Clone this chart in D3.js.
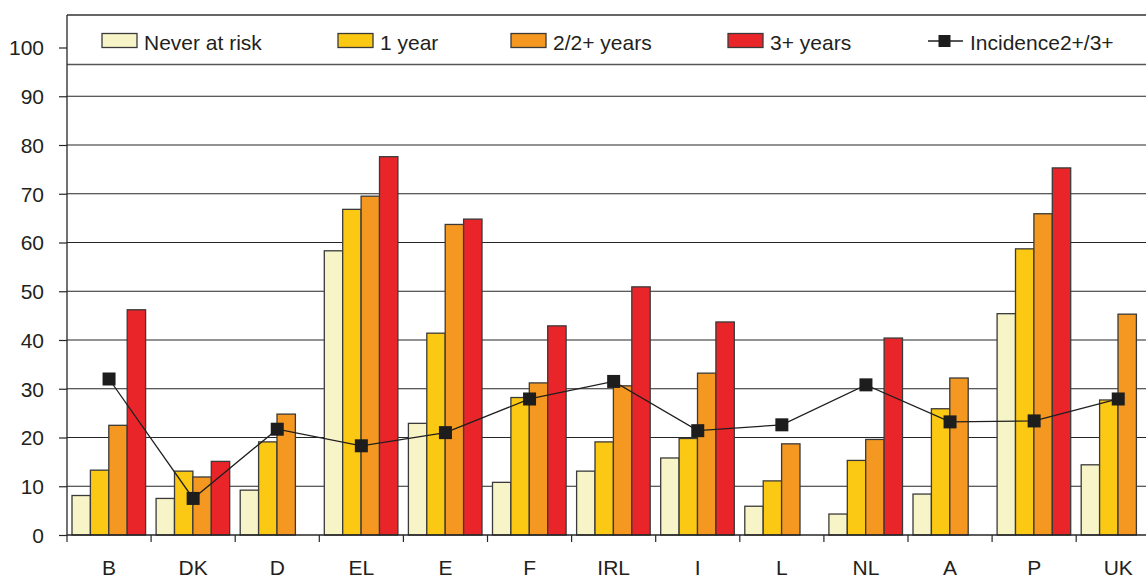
<!DOCTYPE html>
<html>
<head>
<meta charset="utf-8">
<script src="https://cdn.jsdelivr.net/npm/d3@7"></script>
<style>
  html, body { margin: 0; padding: 0; background: #fff; }
  svg { display: block; font-family: "Liberation Sans", Arial, Helvetica, sans-serif; }
</style>
</head>
<body>
<svg id="chart" width="1146" height="576"></svg>
<script>
// Countries along the x axis
const countries = ["B", "DK", "D", "EL", "E", "F", "IRL", "I", "L", "NL", "A", "P", "UK"];

// Bar series (percent); null = no bar
const neverAtRisk = [8.1, 7.5, 9.2, 58.3, 22.9, 10.8, 13.1, 15.8, 5.9, 4.3, 8.4, 45.4, 14.4];
const oneYear     = [13.3, 13.1, 19.1, 66.8, 41.4, 28.2, 19.1, 19.8, 11.1, 15.3, 25.9, 58.7, 27.7];
const twoPlus     = [22.5, 11.9, 24.8, 69.5, 63.7, 31.2, 30.6, 33.2, 18.7, 19.6, 32.2, 65.9, 45.3];
const threePlus   = [46.2, 15.1, null, 77.6, 64.8, 42.9, 50.9, 43.7, null, 40.4, null, 75.3, null];

// Line series
const incidence = [32.0, 7.5, 21.7, 18.3, 21.0, 27.9, 31.5, 21.4, 22.6, 30.8, 23.2, 23.4, 27.9];

const yTicks = [0, 10, 20, 30, 40, 50, 60, 70, 80, 90, 100];

const seriesNames  = ["Never at risk", "1 year", "2/2+ years", "3+ years"];
const seriesValues = [neverAtRisk, oneYear, twoPlus, threePlus];
const seriesColors = ["#f7f4c8", "#fbc814", "#f49822", "#ea2529"];
const lineName = "Incidence2+/3+";

const svg = d3.select("#chart");
const W = 1146, H = 576;
const plotLeft = 67, plotTop = 15, plotBottom = 535, legendBottom = 64.5;
const bandW = 84.1;
const plotRight = plotLeft + bandW * countries.length;
const fontSize = 21;

const x = d3.scaleBand().domain(countries).range([plotLeft, plotRight]).paddingInner(0).paddingOuter(0);
const inner = d3.scaleBand().domain(d3.range(4)).range([5, bandW - 5.5]).padding(0);
const y = d3.scaleLinear().domain([0, 100]).range([plotBottom, 47.5]);

const textColor = "#231f20";

// Horizontal gridlines
svg.append("g")
  .selectAll("line")
  .data(yTicks.filter(t => t > 0 && t < 100))
  .join("line")
  .attr("x1", plotLeft).attr("x2", W)
  .attr("y1", d => y(d)).attr("y2", d => y(d))
  .attr("stroke", "#262626").attr("stroke-width", 1.2);

// Bars
const groups = svg.append("g")
  .selectAll("g")
  .data(countries)
  .join("g")
  .attr("transform", c => `translate(${x(c)},0)`);

groups.each(function(c, ci) {
  const g = d3.select(this);
  seriesValues.forEach((vals, si) => {
    const v = vals[ci];
    if (v == null) return;
    g.append("rect")
      .attr("x", inner(si))
      .attr("width", inner.bandwidth())
      .attr("y", y(v))
      .attr("height", y(0) - y(v))
      .attr("fill", seriesColors[si])
      .attr("stroke", "#3a3a3a")
      .attr("stroke-width", 1.3);
  });
});

// Incidence line with square markers
const line = d3.line()
  .x((d, i) => x(countries[i]) + x.bandwidth() / 2)
  .y(d => y(d));

svg.append("path")
  .datum(incidence)
  .attr("d", line)
  .attr("fill", "none")
  .attr("stroke", "#1f1f1f")
  .attr("stroke-width", 1.3);

svg.append("g")
  .selectAll("rect")
  .data(incidence)
  .join("rect")
  .attr("x", (d, i) => x(countries[i]) + x.bandwidth() / 2 - 6.5)
  .attr("y", d => y(d) - 6.5)
  .attr("width", 13).attr("height", 13)
  .attr("fill", "#1d1d1d");

// Legend box across the top of the plot
svg.append("rect")
  .attr("x", plotLeft).attr("y", plotTop)
  .attr("width", W - plotLeft + 2).attr("height", legendBottom - plotTop)
  .attr("fill", "#fff")
  .attr("stroke", "none");
svg.append("line")
  .attr("x1", plotLeft).attr("x2", W).attr("y1", plotTop).attr("y2", plotTop)
  .attr("stroke", "#333").attr("stroke-width", 1.3);
svg.append("line")
  .attr("x1", plotLeft).attr("x2", W).attr("y1", legendBottom).attr("y2", legendBottom)
  .attr("stroke", "#555").attr("stroke-width", 1.5);

const legendX = [102, 338, 511, 728];
seriesNames.forEach((name, i) => {
  svg.append("rect")
    .attr("x", legendX[i]).attr("y", 33.5)
    .attr("width", 35).attr("height", 14)
    .attr("fill", seriesColors[i])
    .attr("stroke", "#3a3a3a").attr("stroke-width", 1.3);
  svg.append("text")
    .attr("x", legendX[i] + 42).attr("y", 49.5)
    .attr("font-size", fontSize)
    .attr("fill", textColor)
    .text(name);
});
svg.append("line")
  .attr("x1", 928).attr("x2", 963).attr("y1", 41).attr("y2", 41)
  .attr("stroke", "#1f1f1f").attr("stroke-width", 1.3);
svg.append("rect")
  .attr("x", 938.5).attr("y", 35).attr("width", 12).attr("height", 12)
  .attr("fill", "#1d1d1d");
svg.append("text")
  .attr("x", 970).attr("y", 49.5)
  .attr("font-size", fontSize)
  .attr("fill", textColor)
  .text(lineName);

// Y axis
const yAxis = d3.axisLeft(y).tickValues(yTicks).tickSize(8).tickPadding(15).tickFormat(d3.format("d"));
const gy = svg.append("g").attr("transform", `translate(${plotLeft},0)`).call(yAxis);
gy.select(".domain").remove();
gy.selectAll(".tick line").attr("stroke", "#262626").attr("stroke-width", 1.2);
gy.selectAll(".tick text")
  .attr("font-size", fontSize)
  .attr("fill", textColor)
  .attr("font-family", "Liberation Sans, Arial, sans-serif")
  .attr("dy", "0.35em");
svg.append("line")
  .attr("x1", plotLeft).attr("x2", plotLeft).attr("y1", plotTop).attr("y2", plotBottom)
  .attr("stroke", "#262626").attr("stroke-width", 1.3);

// X axis: baseline, boundary ticks and centred labels
svg.append("line")
  .attr("x1", plotLeft).attr("x2", W).attr("y1", plotBottom).attr("y2", plotBottom)
  .attr("stroke", "#262626").attr("stroke-width", 1.3);
svg.append("g")
  .selectAll("line")
  .data(countries)
  .join("line")
  .attr("x1", c => x(c)).attr("x2", c => x(c))
  .attr("y1", plotBottom).attr("y2", plotBottom + 7)
  .attr("stroke", "#262626").attr("stroke-width", 1.2);
svg.append("g")
  .selectAll("text")
  .data(countries)
  .join("text")
  .attr("x", c => x(c) + x.bandwidth() / 2)
  .attr("y", 575)
  .attr("text-anchor", "middle")
  .attr("font-size", fontSize)
  .attr("fill", textColor)
  .text(c => c);
</script>
</body>
</html>
